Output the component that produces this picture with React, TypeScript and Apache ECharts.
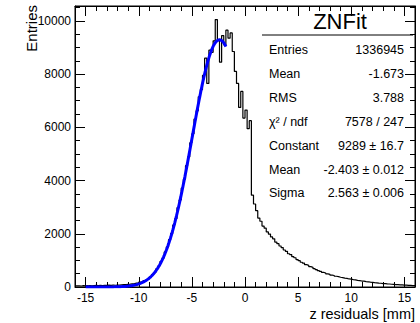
import React, { useEffect, useRef } from "react";
import * as echarts from "echarts";

// Histogram: bins of width 0.2 from -16 to 16
const BIN_START = -16;
const BIN_WIDTH = 0.2;
const counts = [
  40, 46, 38, 51, 43, 48, 56, 47, 53, 59,
  50, 61, 55, 63, 58, 67, 62, 71, 66, 76,
  72, 81, 86, 91, 99, 106, 117, 126, 144, 158,
  185, 203, 236, 262, 305, 380, 470, 540, 680, 790,
  960, 1090, 1320, 1510, 1780, 2010, 2330, 2570, 2980, 3270,
  3720, 4050, 4560, 4890, 5420, 5760, 6310, 6620, 7150, 7420,
  7950, 8600, 7650, 8900, 8820, 9250, 10050, 9300, 8450, 9450,
  9100, 9650, 9350, 9550, 8850, 8100, 7650, 6750, 7350, 6350,
  6650, 5950, 6250, 3450, 3120, 2870, 2590, 2470, 2290, 2210,
  2070, 1990, 1880, 1810, 1690, 1630, 1540, 1480, 1390, 1340,
  1250, 1220, 1140, 1100, 1030, 990, 930, 900, 840, 815,
  765, 740, 690, 655, 615, 585, 548, 526, 492, 474,
  445, 432, 404, 392, 366, 355, 336, 326, 302, 294,
  276, 268, 249, 242, 224, 218, 202, 196, 180, 175,
  162, 157, 145, 141, 129, 125, 116, 112, 103, 100,
  91, 88, 81, 78, 71, 69, 63, 60, 55, 53,
];

// Gaussian fit parameters (as shown in the stats box)
const FIT_CONSTANT = 9289;
const FIT_MEAN = -2.403;
const FIT_SIGMA = 2.563;
const FIT_MIN = -15;
const FIT_MAX = -1.8;

const xMajorTicks = [-15, -10, -5, 0, 5, 10, 15];
const X_MIN = -16;
const X_MAX = 16;
const Y_MAX = 10560;

const statTitle = "ZNFit";
const statLabels = ["Entries", "Mean", "RMS", "χ² / ndf", "Constant", "Mean", "Sigma"];
const statValues = ["1336945", "-1.673", "3.788", "7578 / 247", "9289 ± 16.7", "-2.403 ± 0.012", "2.563 ± 0.006"];

const xTitle = "z residuals [mm]";
const yTitle = "Entries";

const FONT = "'Liberation Sans', Arial, Helvetica, sans-serif";

export default function App() {
  const ref = useRef<HTMLDivElement>(null);

  useEffect(() => {
    document.body.style.margin = "0";
    if (!ref.current) return;
    const chart = echarts.init(ref.current, undefined, { renderer: "svg" });

    const histData: [number, number][] = counts.map((c, i) => [BIN_START + i * BIN_WIDTH, c]);
    histData.push([BIN_START + counts.length * BIN_WIDTH, counts[counts.length - 1]]);

    const fitData: [number, number][] = [];
    for (let x = FIT_MIN; x <= FIT_MAX + 1e-9; x += 0.05) {
      const z = (x - FIT_MEAN) / FIT_SIGMA;
      fitData.push([x, FIT_CONSTANT * Math.exp(-0.5 * z * z)]);
    }

    const black = "#000";
    const commonX = {
      type: "value" as const,
      min: X_MIN,
      max: X_MAX,
      splitLine: { show: false },
    };
    const commonY = {
      type: "value" as const,
      min: 0,
      max: Y_MAX,
      splitLine: { show: false },
    };

    const statGraphics: any[] = [];
    const rowY0 = 50;
    const rowStep = 23.9;
    statLabels.forEach((lab, i) => {
      statGraphics.push({
        type: "text",
        x: 269,
        y: rowY0 + i * rowStep,
        style: {
          text: lab,
          fontSize: 12.5,
          fontFamily: FONT,
          fill: black,
          align: "left",
          textAlign: "left",
          verticalAlign: "middle",
          textVerticalAlign: "middle",
        },
      });
      statGraphics.push({
        type: "text",
        x: 404,
        y: rowY0 + i * rowStep,
        style: {
          text: statValues[i],
          fontSize: 12.5,
          fontFamily: FONT,
          fill: black,
          align: "right",
          textAlign: "right",
          verticalAlign: "middle",
          textVerticalAlign: "middle",
        },
      });
    });

    chart.setOption({
      animation: false,
      grid: {
        left: 75,
        top: 6,
        width: 340,
        height: 281,
        show: true,
        borderColor: black,
        borderWidth: 1,
        containLabel: false,
      },
      xAxis: [
        {
          ...commonX,
          position: "bottom",
          axisLine: { show: true, onZero: false, lineStyle: { color: black, width: 1 } },
          axisTick: { show: true, inside: true, length: 10, customValues: xMajorTicks, lineStyle: { color: black } },
          axisLabel: {
            show: true,
            customValues: xMajorTicks,
            fontSize: 12,
            fontFamily: FONT,
            color: black,
            margin: 5,
            formatter: (v: number) => String(v),
          },
        },
        {
          ...commonX,
          position: "bottom",
          interval: 1,
          axisLine: { show: false, onZero: false },
          axisTick: { show: true, inside: true, length: 5, lineStyle: { color: black } },
          axisLabel: { show: false },
        },
        {
          ...commonX,
          position: "top",
          axisLine: { show: true, onZero: false, lineStyle: { color: black, width: 1 } },
          axisTick: { show: true, inside: true, length: 10, customValues: xMajorTicks, lineStyle: { color: black } },
          axisLabel: { show: false },
        },
        {
          ...commonX,
          position: "top",
          interval: 1,
          axisLine: { show: false, onZero: false },
          axisTick: { show: true, inside: true, length: 5, lineStyle: { color: black } },
          axisLabel: { show: false },
        },
      ],
      yAxis: [
        {
          ...commonY,
          position: "left",
          interval: 2000,
          axisLine: { show: true, onZero: false, lineStyle: { color: black, width: 1 } },
          axisTick: { show: true, inside: true, length: 10, lineStyle: { color: black } },
          axisLabel: {
            show: true,
            fontSize: 12,
            fontFamily: FONT,
            color: black,
            margin: 4,
            showMaxLabel: false,
            formatter: (v: number) => String(v),
          },
        },
        {
          ...commonY,
          position: "left",
          interval: 500,
          axisLine: { show: false, onZero: false },
          axisTick: { show: true, inside: true, length: 5, lineStyle: { color: black } },
          axisLabel: { show: false },
        },
        {
          ...commonY,
          position: "right",
          interval: 2000,
          axisLine: { show: true, onZero: false, lineStyle: { color: black, width: 1 } },
          axisTick: { show: true, inside: true, length: 10, lineStyle: { color: black } },
          axisLabel: { show: false },
        },
        {
          ...commonY,
          position: "right",
          interval: 500,
          axisLine: { show: false, onZero: false },
          axisTick: { show: true, inside: true, length: 5, lineStyle: { color: black } },
          axisLabel: { show: false },
        },
      ],
      series: [
        {
          type: "line",
          xAxisIndex: 0,
          yAxisIndex: 0,
          step: "end",
          data: histData,
          showSymbol: false,
          symbol: "none",
          lineStyle: { color: black, width: 1.2 },
          z: 2,
        },
        {
          type: "line",
          xAxisIndex: 0,
          yAxisIndex: 0,
          data: fitData,
          showSymbol: false,
          symbol: "none",
          lineStyle: { color: "#0000ff", width: 3 },
          z: 3,
        },
      ],
      graphic: [
        {
          type: "text",
          x: 31,
          y: 5,
          rotation: Math.PI / 2,
          style: {
            text: yTitle,
            fontSize: 15,
            fontFamily: FONT,
            fill: black,
            align: "right",
            textAlign: "right",
            verticalAlign: "middle",
            textVerticalAlign: "middle",
          },
        },
        {
          type: "text",
          x: 415,
          y: 314,
          style: {
            text: xTitle,
            fontSize: 14.5,
            fontFamily: FONT,
            fill: black,
            align: "right",
            textAlign: "right",
            verticalAlign: "middle",
            textVerticalAlign: "middle",
          },
        },
        {
          type: "text",
          x: 340,
          y: 21,
          style: {
            text: statTitle,
            fontSize: 22,
            fontFamily: FONT,
            fill: black,
            align: "center",
            textAlign: "center",
            verticalAlign: "middle",
            textVerticalAlign: "middle",
          },
        },
        {
          type: "line",
          shape: { x1: 262, y1: 35, x2: 413, y2: 35 },
          style: { stroke: black, lineWidth: 1 },
        },
        ...statGraphics,
      ],
    });

    return () => {
      chart.dispose();
    };
  }, []);

  return <div ref={ref} style={{ width: 420, height: 323 }} />;
}
